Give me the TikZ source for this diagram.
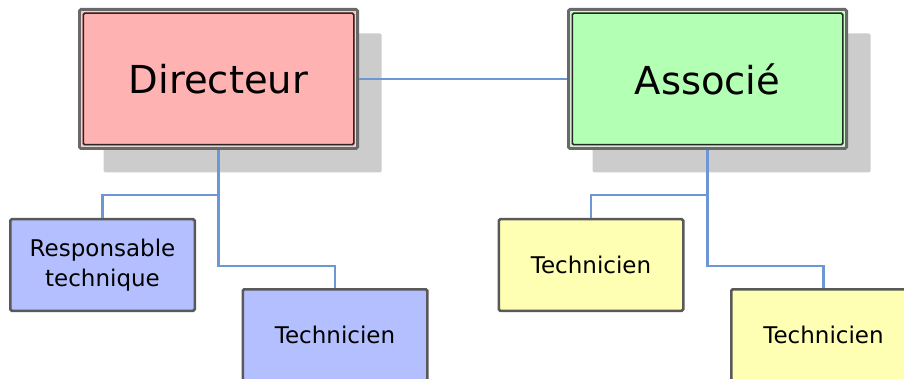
\documentclass[tikz,border=0pt]{standalone}
\usepackage{fontspec}
\setmainfont{DejaVu Sans}
\usetikzlibrary{positioning, shadows}
\definecolor{dirpink}{RGB}{255,178,178}
\definecolor{assocgreen}{RGB}{179,255,179}
\definecolor{teamblue}{RGB}{179,191,255}
\definecolor{teamyellow}{RGB}{255,255,179}
\definecolor{linkblue}{RGB}{108,150,212}
\definecolor{shadowgray}{RGB}{204,204,204}
\definecolor{framegray}{RGB}{105,105,105}
\tikzstyle{chief} = [
    rectangle, draw=framegray, line width=3pt, rounded corners=1.5pt,
    minimum width=278pt, minimum height=139pt,
    font=\fontsize{38.5pt}{44pt}\selectfont,
    drop shadow={shadow xshift=24pt, shadow yshift=-24pt, fill=shadowgray, opacity=1}, % flat grey shadow
    path picture={ % white gap, then thin black inner frame
        \draw[white, line width=4pt] (path picture bounding box.south west) rectangle (path picture bounding box.north east);
        \draw[black!85, line width=1.5pt] ([shift={(3.75pt,3.75pt)}]path picture bounding box.south west) rectangle ([shift={(-3.75pt,-3.75pt)}]path picture bounding box.north east);
    }
]
\tikzstyle{staff} = [
    rectangle, draw=framegray!85!black, line width=2.5pt, rounded corners=1.5pt,
    minimum width=184.5pt, minimum height=91.5pt,
    align=center, font=\fontsize{23pt}{30pt}\selectfont
]
\tikzstyle{orgline} = [draw=linkblue, line width=2.4pt]

\begin{document}
\begin{tikzpicture}
    \useasboundingbox (0,0) rectangle (904pt,-379pt);

    % Top level
    \node[chief, fill=dirpink] (dir) at (218.5pt,-79pt) {Directeur};
    \node[chief, fill=assocgreen] (assoc) [right=208pt of dir] {Associé};

    % Staff under each head
    \node[staff, fill=teamblue] (resp) [below=68pt of dir, xshift=-116pt] {Responsable\\technique};
    \node[staff, fill=teamblue] (techdir) [below=138pt of dir, xshift=116.5pt] {Technicien};
    \node[staff, fill=teamyellow] (techa) [below=68pt of assoc, xshift=-116.5pt] {Technicien};
    \node[staff, fill=teamyellow] (techb) [below=138pt of assoc, xshift=116pt] {Technicien};

    % Connectors
    \draw[orgline] (dir.east) -- (assoc.west);
    \coordinate (dirsplit) at ([yshift=-45pt]dir.south);
    \coordinate (assocsplit) at ([yshift=-45pt]assoc.south);
    \draw[orgline] (dir.south) -- (dirsplit) -| (resp.north);
    \draw[orgline] (dirsplit) -- ++(0,-71pt) -| (techdir.north);
    \draw[orgline] (assoc.south) -- (assocsplit) -| (techa.north);
    \draw[orgline] (assocsplit) -- ++(0,-71pt) -| (techb.north);

\end{tikzpicture}
\end{document}
